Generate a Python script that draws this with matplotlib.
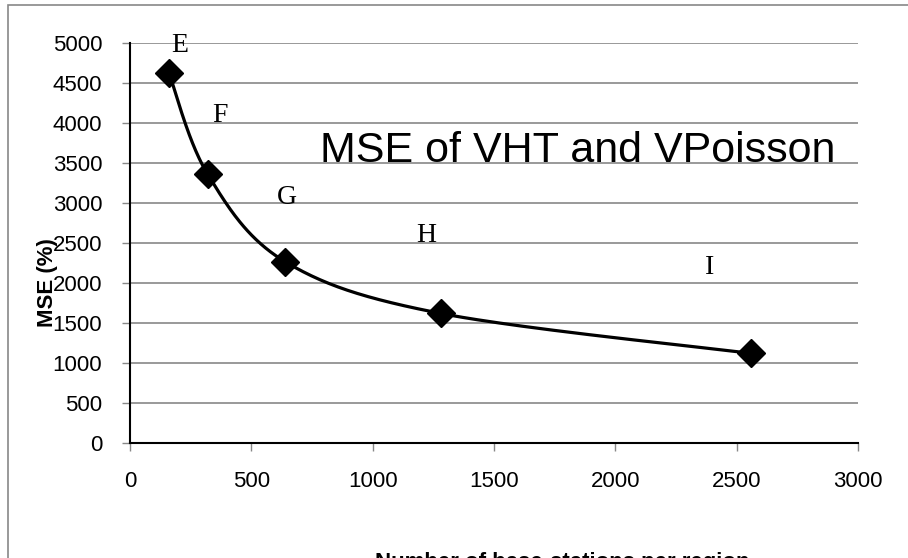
import numpy as np
import matplotlib
matplotlib.use("Agg")
import matplotlib.pyplot as plt
from matplotlib.patches import Rectangle

# Data
x_vals = [160, 320, 640, 1280, 2560]
mse_vals = [4630, 3360, 2265, 1620, 1120]
point_labels = ["E", "F", "G", "H", "I"]
label_x = [205, 370, 645, 1220, 2390]
label_y = [4975, 4100, 3075, 2600, 2200]
x_ticks = [0, 500, 1000, 1500, 2000, 2500, 3000]
y_ticks = [0, 500, 1000, 1500, 2000, 2500, 3000, 3500, 4000, 4500, 5000]
title = "MSE of VHT and VPoisson"
ylabel = "MSE (%)"
xlabel = "Number of base-stations per region"

plt.rcParams['font.family'] = ['Liberation Sans', 'DejaVu Sans']

fig = plt.figure(figsize=(9.08, 5.58), dpi=100)
fig.patch.set_facecolor('white')

# outer chart border (cropped at right/bottom)
fig.patches.append(Rectangle((8/908, -0.2), 1.2, (558-5)/558 + 0.2,
                             transform=fig.transFigure, fill=False,
                             edgecolor='#888888', linewidth=1.2))

ax = fig.add_axes([130/908, (558-443)/558, (858-130)/908, (443-43)/558])
ax.set_xlim(0, 3000)
ax.set_ylim(0, 5000)
ax.set_xticks(x_ticks)
ax.set_yticks(y_ticks)
ax.tick_params(axis='both', labelsize=16, color='#888888', length=6, width=1,
               direction='out')
ax.tick_params(axis='x', pad=14)
ax.tick_params(axis='y', pad=14)
ax.grid(axis='y', color='#888888', linewidth=1.2)
ax.set_axisbelow(True)
for s in ['top', 'right']:
    ax.spines[s].set_visible(False)
for s in ['left', 'bottom']:
    ax.spines[s].set_color('black')
    ax.spines[s].set_linewidth(1.5)

# smoothed line (Excel-style Bezier smoothing through the data points)
P = np.column_stack([x_vals, mse_vals]).astype(float)
Pext = np.vstack([P[0], P, P[-1]])
t = np.linspace(0, 1, 60)
curve = []
for i in range(1, len(Pext) - 2):
    p0, p1, p2, p3 = Pext[i-1], Pext[i], Pext[i+1], Pext[i+2]
    c1 = p1 + (p2 - p0) / 6.0
    c2 = p2 - (p3 - p1) / 6.0
    seg = ((1-t)**3)[:, None]*p1 + (3*(1-t)**2*t)[:, None]*c1 + \
          (3*(1-t)*t**2)[:, None]*c2 + (t**3)[:, None]*p2
    curve.append(seg)
curve = np.vstack(curve)
ax.plot(curve[:, 0], curve[:, 1], color='black', linewidth=2.3, zorder=3,
        clip_on=False)
ax.plot(x_vals, mse_vals, linestyle='none', marker='D', markersize=14,
        color='black', zorder=4, clip_on=False)

for lx, ly, lab in zip(label_x, label_y, point_labels):
    ax.text(lx, ly, lab, fontsize=20, family=['Liberation Serif'],
            ha='center', va='center', zorder=5)

ax.text(1843, 3650, title, fontsize=31, ha='center', va='center')

fig.text(47/908, (558-283)/558, ylabel, rotation=90, fontsize=16,
         fontweight='bold', ha='center', va='center')
fig.text(562/908, (558-552)/558, xlabel, fontsize=16, fontweight='bold',
         ha='center', va='top')

fig.savefig('out.png', dpi=100, facecolor='white')
